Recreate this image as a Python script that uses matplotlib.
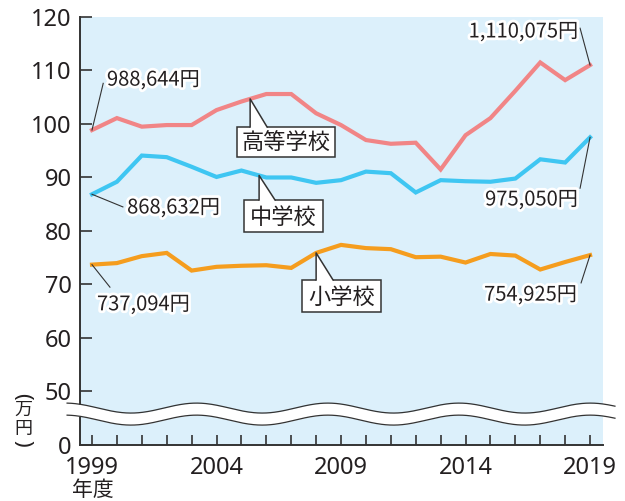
import numpy as np
import matplotlib.pyplot as plt
import matplotlib.patheffects as pe
from matplotlib.patches import Rectangle, Polygon

plt.rcParams['font.family'] = ['Noto Sans', 'Noto Sans CJK JP', 'DejaVu Sans']

# Data (万円)
years = list(range(1999, 2020))
high = [98.8644, 101.1, 99.5, 99.8, 99.8, 102.6, 104.2, 105.6, 105.6, 102.0, 99.8,
        97.0, 96.3, 96.5, 91.5, 97.9, 101.1, 106.2, 111.5, 108.2, 111.0075]
junior = [86.8632, 89.2, 94.1, 93.8, 92.0, 90.1, 91.3, 90.0, 90.0, 89.0, 89.5,
          91.1, 90.8, 87.2, 89.5, 89.3, 89.2, 89.8, 93.4, 92.8, 97.5050]
elem = [73.7094, 74.0, 75.3, 75.9, 72.6, 73.3, 73.5, 73.6, 73.1, 75.9, 77.4,
        76.8, 76.6, 75.1, 75.2, 74.1, 75.7, 75.4, 72.8, 74.2, 75.4925]
ytick_vals = [40, 50, 60, 70, 80, 90, 100, 110, 120]
ytick_labels = ['0', '50', '60', '70', '80', '90', '100', '110', '120']
xtick_labels = [str(y) if (y - 1999) % 5 == 0 else '' for y in years]

c_high = '#F18586'
c_jun = '#3FC6F2'
c_elem = '#F59D1E'
txt = '#231F20'
edge = '#333333'

fig = plt.figure(figsize=(6.25, 5.01), dpi=100)
ax = fig.add_axes([0.128, 0.1118, 0.8368, 0.8543])
ax.set_facecolor('#DCF0FB')

ax.plot(years, high, color=c_high, lw=3, zorder=3, solid_joinstyle='miter')
ax.plot(years, junior, color=c_jun, lw=3, zorder=3, solid_joinstyle='miter')
ax.plot(years, elem, color=c_elem, lw=3, zorder=3, solid_joinstyle='miter')

ax.set_xlim(1998.518, 2019.52)
ax.set_ylim(40, 120)
ax.set_xticks(years)
ax.set_xticklabels(xtick_labels)
ax.set_yticks(ytick_vals)
ax.set_yticklabels(ytick_labels)
ax.tick_params(axis='y', direction='in', length=8.5, width=1.2, color=edge,
               labelsize=17, labelcolor=txt, pad=6)
ax.tick_params(axis='x', direction='in', length=7, width=1.2, color=edge,
               labelsize=17, labelcolor=txt, pad=8)
for s in ['top', 'right']:
    ax.spines[s].set_visible(False)
for s in ['left', 'bottom']:
    ax.spines[s].set_color(edge)
    ax.spines[s].set_linewidth(1.4)

# broken-axis wave
xw = np.linspace(1998.0, 2020.0, 400)
ph = np.cos(2 * np.pi * (xw - 2003.2) / 5.27)
top = 46.9 + 0.93 * ph
bot = 44.65 + 0.93 * ph
ax.fill_between(xw, bot, top, color='white', zorder=5, clip_on=False, lw=0)
ax.plot(xw, top, color=edge, lw=0.9, zorder=6, clip_on=False)
ax.plot(xw, bot, color=edge, lw=0.9, zorder=6, clip_on=False)

# callout boxes
def callout(label, x0, x1, y0, y1, tipx, series, bx0, bx1):
    ax.add_patch(Rectangle((x0, y0), x1 - x0, y1 - y0, facecolor='white',
                           edgecolor=edge, lw=1.1, zorder=7))
    tipy = np.interp(tipx, years, series)
    ax.add_patch(Polygon([(tipx, tipy), (bx0, y1), (bx0, y1 - 0.3), (bx1, y1 - 0.3), (bx1, y1)],
                         closed=True, facecolor='white', edgecolor='none', zorder=8))
    ax.plot([bx0, tipx, bx1], [y1, tipy, y1], color=edge, lw=1.1, zorder=9)
    ax.text((x0 + x1) / 2, (y0 + y1) / 2 - 0.2, label, ha='center', va='center',
            fontsize=16, color=txt, family=['Noto Sans CJK JP'], zorder=10)

callout('高等学校', 2004.82, 2008.76, 93.83, 99.44, 2005.35, high, 2005.35, 2006.03)
callout('中学校', 2005.10, 2008.28, 79.81, 85.79, 2005.71, junior, 2005.71, 2006.35)
callout('小学校', 2007.43, 2010.61, 64.86, 70.84, 2008.0, elem, 2008.0, 2008.68)

# value labels
halo = [pe.withStroke(linewidth=4, foreground='white')]
vfont = ['Noto Sans CJK JP']

def vlabel(s, tx, ty, ha, lx, ly, px, py):
    ax.plot([px, lx], [py, ly], color=edge, lw=0.8, zorder=4)
    ax.text(tx, ty, s, ha=ha, va='center', fontsize=14.5, color=txt, family=vfont,
            path_effects=halo, zorder=4)

vlabel('988,644円', 1999.60, 108.2, 'left', 1999.45, 107.6, years[0], high[0])
vlabel('868,632円', 2000.41, 84.3, 'left', 2000.24, 84.5, years[0], junior[0])
vlabel('737,094円', 1999.20, 66.2, 'left', 1999.72, 69.5, years[0], elem[0])
vlabel('1,110,075円', 2018.52, 117.2, 'right', 2018.6, 117.9, years[-1], high[-1])
vlabel('975,050円', 2018.52, 85.8, 'right', 2018.6, 88.0, years[-1], junior[-1])
vlabel('754,925円', 2018.48, 68.0, 'right', 2018.64, 70.3, years[-1], elem[-1])

# axis unit labels (vertical writing)
fig.text(93 / 625, 1 - 490 / 501, '年度', ha='center', va='center', fontsize=15,
         color=txt, family=['Noto Sans CJK JP'])
for ch, py in [('万', 410), ('円', 429)]:
    fig.text(23 / 625, 1 - py / 501, ch, ha='center', va='center', fontsize=13,
             color=txt, family=['Noto Sans CJK JP'])
for ch, py in [('(', 396), (')', 443)]:
    fig.text(22 / 625, 1 - py / 501, ch, ha='center', va='center', fontsize=16,
             rotation=-90, color=txt, family=['Noto Sans'])

fig.savefig('out.png', dpi=100)
